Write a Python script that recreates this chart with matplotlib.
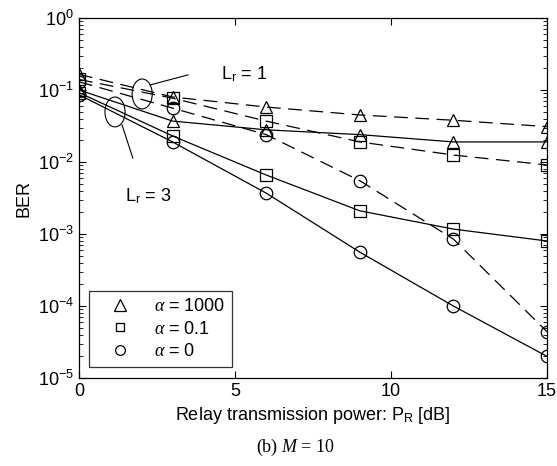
import numpy as np
import matplotlib.pyplot as plt
from matplotlib.patches import Ellipse

plt.rcParams['font.family'] = 'Liberation Sans'
plt.rcParams['mathtext.fontset'] = 'custom'
plt.rcParams['mathtext.rm'] = 'Liberation Sans'
plt.rcParams['mathtext.it'] = 'Liberation Serif:italic'

snr = [0, 3, 6, 9, 12, 15]

# L_r = 1 (dashed)
ber1_a1000 = [0.165, 0.080, 0.058, 0.045, 0.038, 0.031]
ber1_a01 = [0.140, 0.077, 0.037, 0.019, 0.0125, 0.0091]
ber1_a0 = [0.130, 0.056, 0.024, 0.0055, 0.00085, 4.4e-5]

# L_r = 3 (solid)
ber3_a1000 = [0.100, 0.037, 0.028, 0.024, 0.019, 0.019]
ber3_a01 = [0.092, 0.023, 0.0066, 0.0021, 0.00117, 0.0008]
ber3_a0 = [0.086, 0.019, 0.0037, 0.00056, 0.0001, 2.0e-5]

fig = plt.figure(figsize=(5.57, 4.66), dpi=100)
ax = fig.add_axes([0.1418, 0.1888, 0.8402, 0.7726])

kw = dict(color='black', lw=0.9, mfc='none', mec='black', ms=9, mew=0.9)
dash = (0, (11, 6))
ax.semilogy(snr, ber1_a1000, '^', ls=dash, **kw)
ax.semilogy(snr, ber1_a01, 's', ls=dash, **kw)
ax.semilogy(snr, ber1_a0, 'o', ls=dash, **kw)
ax.semilogy(snr, ber3_a1000, '^', ls='-', **kw)
ax.semilogy(snr, ber3_a01, 's', ls='-', **kw)
ax.semilogy(snr, ber3_a0, 'o', ls='-', **kw)

# legend with markers only
h1, = ax.plot([], [], '^', mfc='none', mec='black', ms=8, mew=0.9)
h2, = ax.plot([], [], 's', mfc='none', mec='black', ms=6, mew=0.9)
h3, = ax.plot([], [], 'o', mfc='none', mec='black', ms=7, mew=0.9)
leg = ax.legend([h1, h2, h3], [r'$\alpha$ = 1000', r'$\alpha$ = 0.1', r'$\alpha$ = 0'],
                loc='lower left', bbox_to_anchor=(0.021, 0.03), fancybox=False,
                edgecolor='black', fontsize=13, handletextpad=0.6, borderpad=0.4,
                labelspacing=0.3, handlelength=2.6, borderaxespad=0)
leg.get_frame().set_linewidth(0.9)

ax.set_xlim(0, 15)
ax.set_ylim(1e-5, 1)
ax.set_xticks([0, 5, 10, 15])
ax.tick_params(which='both', direction='in', top=True, right=True, labelsize=13)
ax.tick_params(which='major', length=5)
ax.tick_params(which='minor', length=3)
for s in ax.spines.values():
    s.set_linewidth(0.9)

ax.set_xlabel(r'Relay transmission power: P$_\mathregular{R}$ [dB]', fontsize=13)
ax.set_ylabel('BER', fontsize=13)

# annotations (axes fraction)
ax.add_patch(Ellipse((0.135, 0.789), 0.043, 0.083, transform=ax.transAxes, fill=False, lw=0.8))
ax.add_patch(Ellipse((0.077, 0.739), 0.043, 0.083, transform=ax.transAxes, fill=False, lw=0.8))
ax.plot([0.152, 0.233], [0.814, 0.842], color='black', lw=0.8, transform=ax.transAxes)
ax.plot([0.092, 0.115], [0.703, 0.611], color='black', lw=0.8, transform=ax.transAxes)
ax.text(0.303, 0.83, r'L$_\mathregular{r}$ = 1', fontsize=13, transform=ax.transAxes)
ax.text(0.098, 0.49, r'L$_\mathregular{r}$ = 3', fontsize=13, transform=ax.transAxes)

fig.text(0.53, 0.03, '(b) $M$ = 10', fontsize=13, family='Liberation Serif', ha='center')

fig.savefig('out.png', dpi=100)
